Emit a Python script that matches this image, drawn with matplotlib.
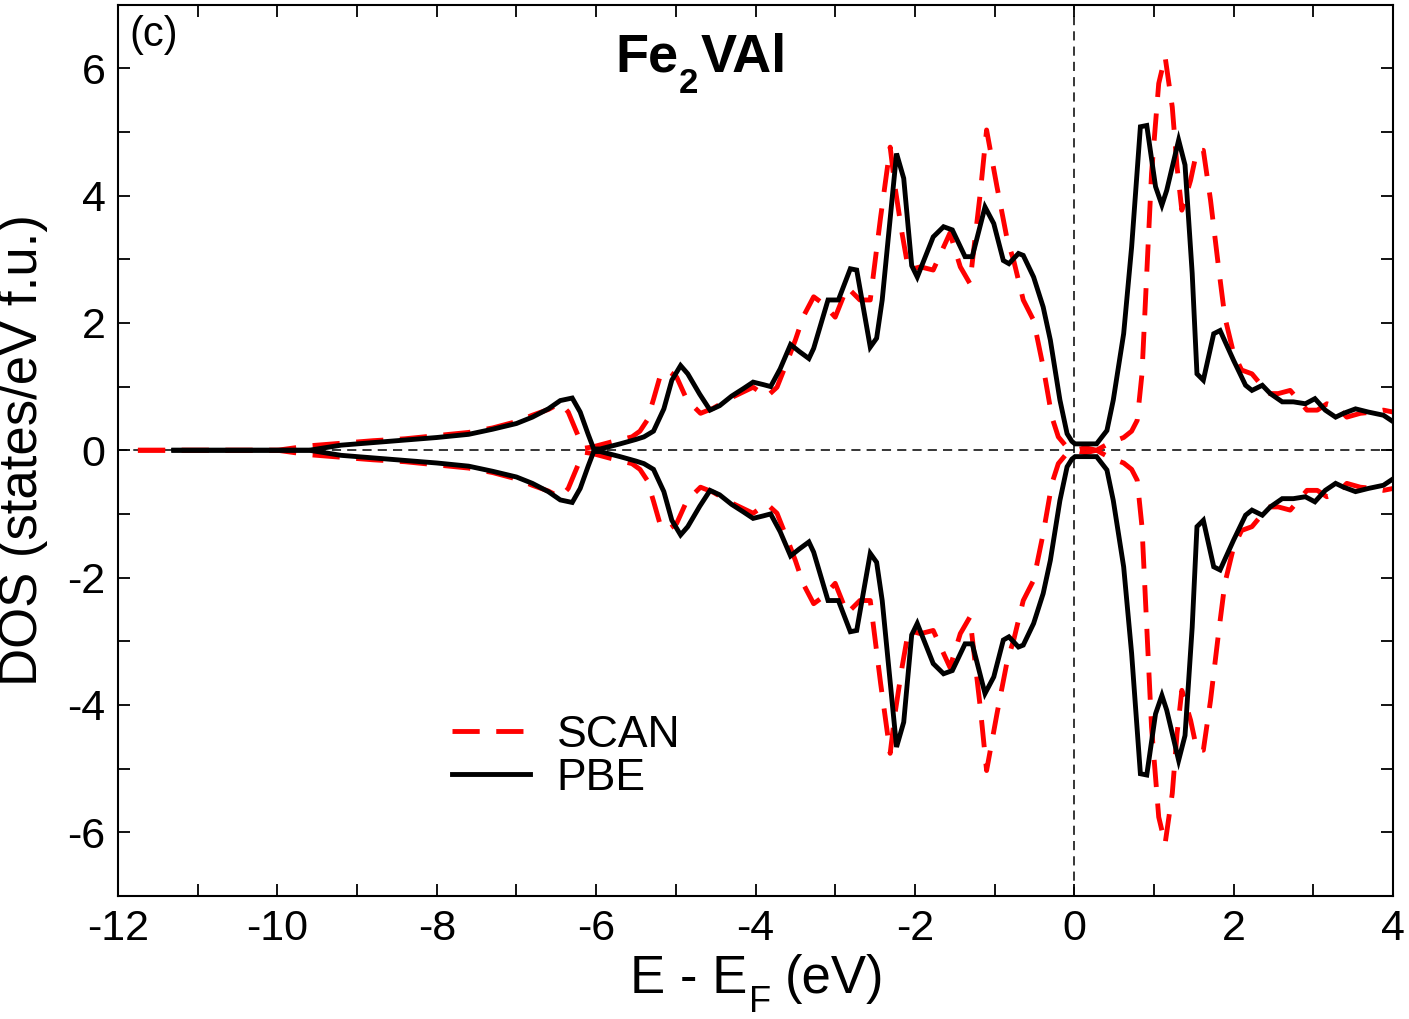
import matplotlib
matplotlib.use("Agg")
import matplotlib.pyplot as plt
from matplotlib.ticker import MultipleLocator
import numpy as np

plt.rcParams['font.family'] = ['Liberation Sans', 'DejaVu Sans']
plt.rcParams['mathtext.default'] = 'regular'
plt.rcParams['axes.unicode_minus'] = False

# PBE (spin-up; spin-down is the mirror image)
pbe_e = [-11.3, -10.5, -10.0, -9.6, -9.2, -8.8, -8.4, -8.0, -7.6, -7.3, -7.0, -6.8, -6.6, -6.45,
         -6.3, -6.2, -6.1, -6.03, -5.95, -5.7, -5.5, -5.4, -5.28, -5.15, -5.05, -4.94, -4.85,
         -4.7, -4.57, -4.45, -4.3, -4.15, -4.03, -3.9, -3.81, -3.69, -3.56, -3.45, -3.33, -3.27,
         -3.09, -2.96, -2.81, -2.73, -2.56, -2.48, -2.41, -2.23, -2.14, -2.04, -1.97, -1.77,
         -1.64, -1.53, -1.37, -1.28, -1.12, -1.01, -0.89, -0.82, -0.70, -0.64, -0.51, -0.39,
         -0.30, -0.18, -0.09, -0.03, 0.01, 0.15, 0.28, 0.41, 0.49, 0.62, 0.72, 0.83, 0.91,
         1.02, 1.10, 1.16, 1.31, 1.39, 1.48, 1.54, 1.62, 1.75, 1.83, 2.0, 2.15, 2.23, 2.36,
         2.46, 2.61, 2.75, 2.90, 3.02, 3.15, 3.28, 3.38, 3.53, 3.69, 3.88, 4.0]
pbe_dos = [0.0, 0.0, 0.0, 0.0, 0.08, 0.12, 0.16, 0.2, 0.25, 0.33, 0.42, 0.52, 0.65, 0.78,
           0.82, 0.6, 0.25, 0.02, 0.02, 0.1, 0.17, 0.21, 0.3, 0.65, 1.1, 1.33, 1.2,
           0.88, 0.63, 0.7, 0.85, 0.97, 1.07, 1.03, 1.0, 1.28, 1.66, 1.55, 1.44, 1.6,
           2.36, 2.36, 2.85, 2.83, 1.62, 1.76, 2.36, 4.66, 4.27, 2.9, 2.72, 3.35,
           3.51, 3.46, 3.04, 3.04, 3.82, 3.56, 2.98, 2.93, 3.09, 3.06, 2.72, 2.25,
           1.73, 0.79, 0.26, 0.14, 0.1, 0.1, 0.1, 0.31, 0.79, 1.83, 3.19, 5.08, 5.1,
           4.14, 3.85, 4.08, 4.87, 4.48, 2.78, 1.2, 1.1, 1.83, 1.88, 1.41, 1.02, 0.94, 1.02,
           0.89, 0.76, 0.76, 0.73, 0.81, 0.63, 0.52, 0.58, 0.65, 0.6, 0.55, 0.45]

# SCAN (spin-up; spin-down is the mirror image)
scan_e = [-11.75, -10.5, -10.0, -9.6, -9.2, -8.8, -8.4, -8.0, -7.6, -7.3, -7.0, -6.8, -6.6,
          -6.45, -6.35, -6.25, -6.16, -6.05, -5.81, -5.55, -5.45, -5.36, -5.28, -5.20, -5.11,
          -4.99, -4.86, -4.69, -4.53, -4.28, -4.03, -3.86, -3.73, -3.6, -3.5, -3.4, -3.27,
          -3.15, -3.0, -2.85, -2.69, -2.56, -2.43, -2.31, -2.25, -2.16, -2.08, -1.93, -1.77,
          -1.64, -1.56, -1.43, -1.31, -1.18, -1.10, -0.97, -0.84, -0.76, -0.64, -0.51, -0.39,
          -0.28, -0.2, -0.1, 0.0, 0.14, 0.28, 0.45, 0.62, 0.72, 0.79, 0.85, 0.91, 0.97, 1.06,
          1.14, 1.23, 1.29, 1.35, 1.46, 1.54, 1.62, 1.71, 1.81, 1.89, 2.0, 2.1, 2.23, 2.33,
          2.42, 2.56, 2.71, 2.82, 2.92, 3.05, 3.17, 3.30, 3.42, 3.59, 3.75, 3.88, 4.0]
scan_dos = [0.0, 0.0, 0.0, 0.07, 0.11, 0.15, 0.18, 0.23, 0.28, 0.35, 0.45, 0.55, 0.64,
            0.74, 0.6, 0.3, 0.03, 0.05, 0.13, 0.21, 0.3, 0.47, 0.8, 1.15, 1.26,
            1.15, 0.79, 0.58, 0.66, 0.84, 0.99, 0.84, 0.99, 1.4, 1.73, 2.1, 2.41,
            2.3, 2.09, 2.56, 2.36, 2.36, 3.66, 4.76, 4.14, 3.40, 2.83, 2.88, 2.83,
            3.19, 3.41, 2.88, 2.62, 4.03, 5.03, 4.14, 3.3, 2.98, 2.36, 2.04, 1.31,
            0.52, 0.21, 0.06, 0.0, 0.04, 0.0, 0.12, 0.2, 0.3, 0.47, 1.2, 2.78, 4.35, 5.76,
            6.18, 5.39, 4.45, 3.77, 4.24, 4.71, 4.71, 3.93, 2.88, 2.09, 1.52, 1.26, 1.2, 1.05,
            0.89, 0.89, 0.94, 0.78, 0.63, 0.63, 0.73, 0.68, 0.52, 0.58, 0.6, 0.63, 0.6]

series_labels = ["SCAN", "PBE"]
x_ticks = [-12, -10, -8, -6, -4, -2, 0, 2, 4]
y_ticks = [-6, -4, -2, 0, 2, 4, 6]

W, H = 1409, 1019
fig = plt.figure(figsize=(W / 100, H / 100), dpi=100)
ax = fig.add_axes([118/W, 1 - 896/H, 1275/W, 891.5/H])

ax.axhline(0, color='black', lw=1.1, ls=(0, (6, 4)), zorder=1)
ax.axvline(0, color='black', lw=1.1, ls=(0, (6, 4)), zorder=1)

s_e = np.array(scan_e); s_d = np.array(scan_dos)
p_e = np.array(pbe_e); p_d = np.array(pbe_dos)

LW = 3.5
l1, = ax.plot(s_e, s_d, color='#ff0000', lw=LW, dashes=(5.6, 3.4), label=series_labels[0], zorder=2)
ax.plot(s_e, -s_d, color='#ff0000', lw=LW, dashes=(5.6, 3.4), zorder=2)
l2, = ax.plot(p_e, p_d, color='black', lw=LW, label=series_labels[1], zorder=3, solid_joinstyle='miter')
ax.plot(p_e, -p_d, color='black', lw=LW, zorder=3, solid_joinstyle='miter')

ax.set_xlim(-12, 4)
ax.set_ylim(-7, 7)
ax.set_xticks(x_ticks)
ax.set_yticks(y_ticks)
ax.xaxis.set_minor_locator(MultipleLocator(1))
ax.yaxis.set_minor_locator(MultipleLocator(1))
ax.tick_params(which='both', direction='in', top=True, right=True, length=8.5, width=1.3,
               labelsize=31, pad=9)
for sp in ax.spines.values():
    sp.set_linewidth(1.5)

# x label "E - E_F (eV)" with a lowered subscript
fig.text(747/W, 1 - 993/H, 'E - E', fontsize=38, ha='right', va='baseline')
fig.text(749/W, 1 - 1012/H, 'F', fontsize=26, ha='left', va='baseline')
fig.text(785/W, 1 - 993/H, '(eV)', fontsize=38, ha='left', va='baseline')

ax.set_ylabel('DOS (states/eV f.u.)', fontsize=38)
ax.yaxis.set_label_coords(-0.055, 0.5)

# title Fe2VAl with a lowered subscript
ax.text(-4.97, 5.94, 'Fe', fontsize=39, fontweight='bold', ha='right', va='baseline')
ax.text(-4.96, 5.61, '2', fontsize=25, fontweight='bold', ha='left', va='baseline')
ax.text(-4.69, 5.94, 'VAl', fontsize=39, fontweight='bold', ha='left', va='baseline')

ax.text(0.009, 0.988, '(c)', fontsize=30, ha='left', va='top', transform=ax.transAxes)

leg = ax.legend(handles=[l1, l2], loc='center left', bbox_to_anchor=(0.262, 0.156),
                frameon=False, fontsize=32, handlelength=1.75, handletextpad=0.6,
                labelspacing=0.05, borderpad=0, borderaxespad=0)

fig.savefig('out.png', dpi=100)
